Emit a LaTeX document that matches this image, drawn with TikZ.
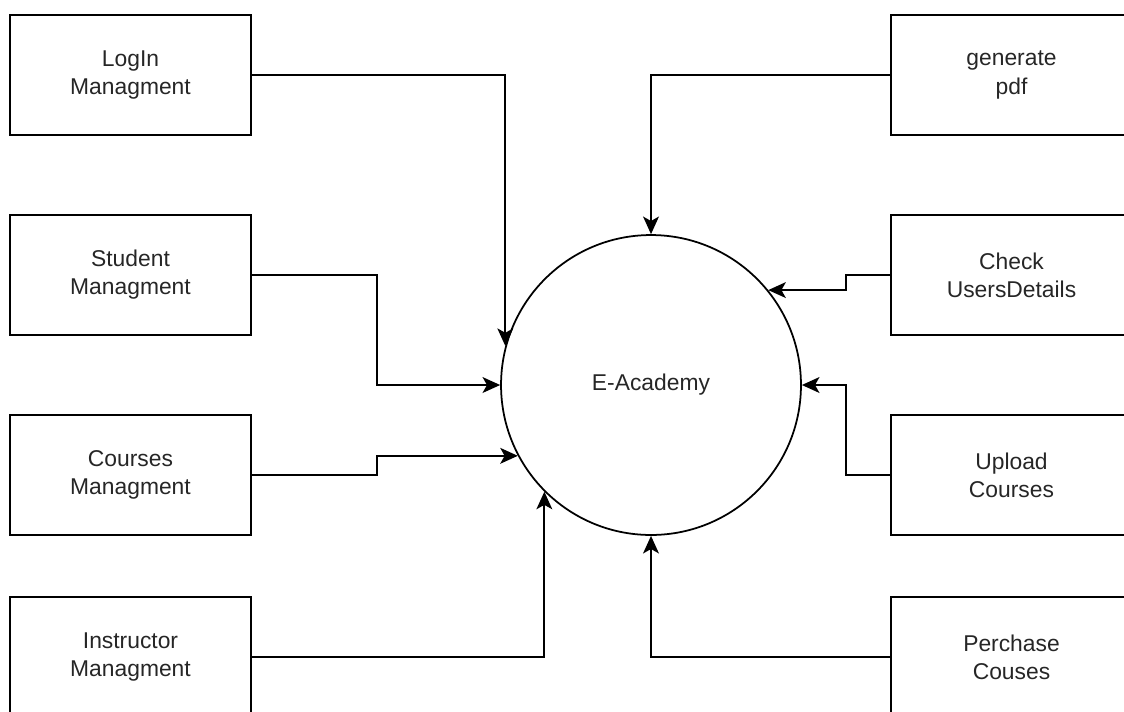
\documentclass[tikz,border=0pt]{standalone}
\usepackage{fontspec}
\setmainfont{Liberation Sans}
\usetikzlibrary{arrows.meta}
\begin{document}
\begin{tikzpicture}[x=0.02cm, y=-0.02cm,
  every node/.style={font=\fontsize{13}{16}\selectfont, text=black!85},
  module/.style={draw, line width=1pt, minimum width=4.82cm, minimum height=2.4cm, align=center, inner sep=0pt},
  core/.style={draw, circle, line width=1pt, minimum size=6cm, inner sep=0pt},
  flow/.style={line width=1pt, -{Stealth[length=10pt, width=9pt, inset=2.5pt]}}]
  \clip (0,0) rectangle (1124,711);
  % centre process
  \node[core] (eacad) at (651,385) {E-Academy};
  % left side
  \node[module] (login) at (130.5,75) {LogIn\\Managment};
  \node[module] (student) at (130.5,275) {Student\\Managment};
  \node[module] (courses) at (130.5,475) {Courses\\Managment};
  \node[module] (instr) at (130.5,657) {Instructor\\Managment};
  % right side
  \node[module] (genpdf) at (1011.5,75) {generate\\pdf};
  \node[module] (check) at (1011.5,275) {Check\\UsersDetails};
  \node[module] (upload) at (1011.5,475) {Upload\\Courses};
  \node[module] (perchase) at (1011.5,657) {Perchase\\Couses};
  % flows into the process
  \draw[flow] (login.east) -| (eacad.165);
  \draw[flow] (student.east) -- ++(125,0) |- (eacad.west);
  \draw[flow] (courses.east) -- ++(125,0) |- (eacad.208);
  \draw[flow] (instr.east) -| (eacad.225);
  \draw[flow] (genpdf.west) -| (eacad.north);
  \draw[flow] (check.west) -- ++(-44,0) |- (eacad.39);
  \draw[flow] (upload.west) -- ++(-44,0) |- (eacad.east);
  \draw[flow] (perchase.west) -| (eacad.south);
\end{tikzpicture}
\end{document}
